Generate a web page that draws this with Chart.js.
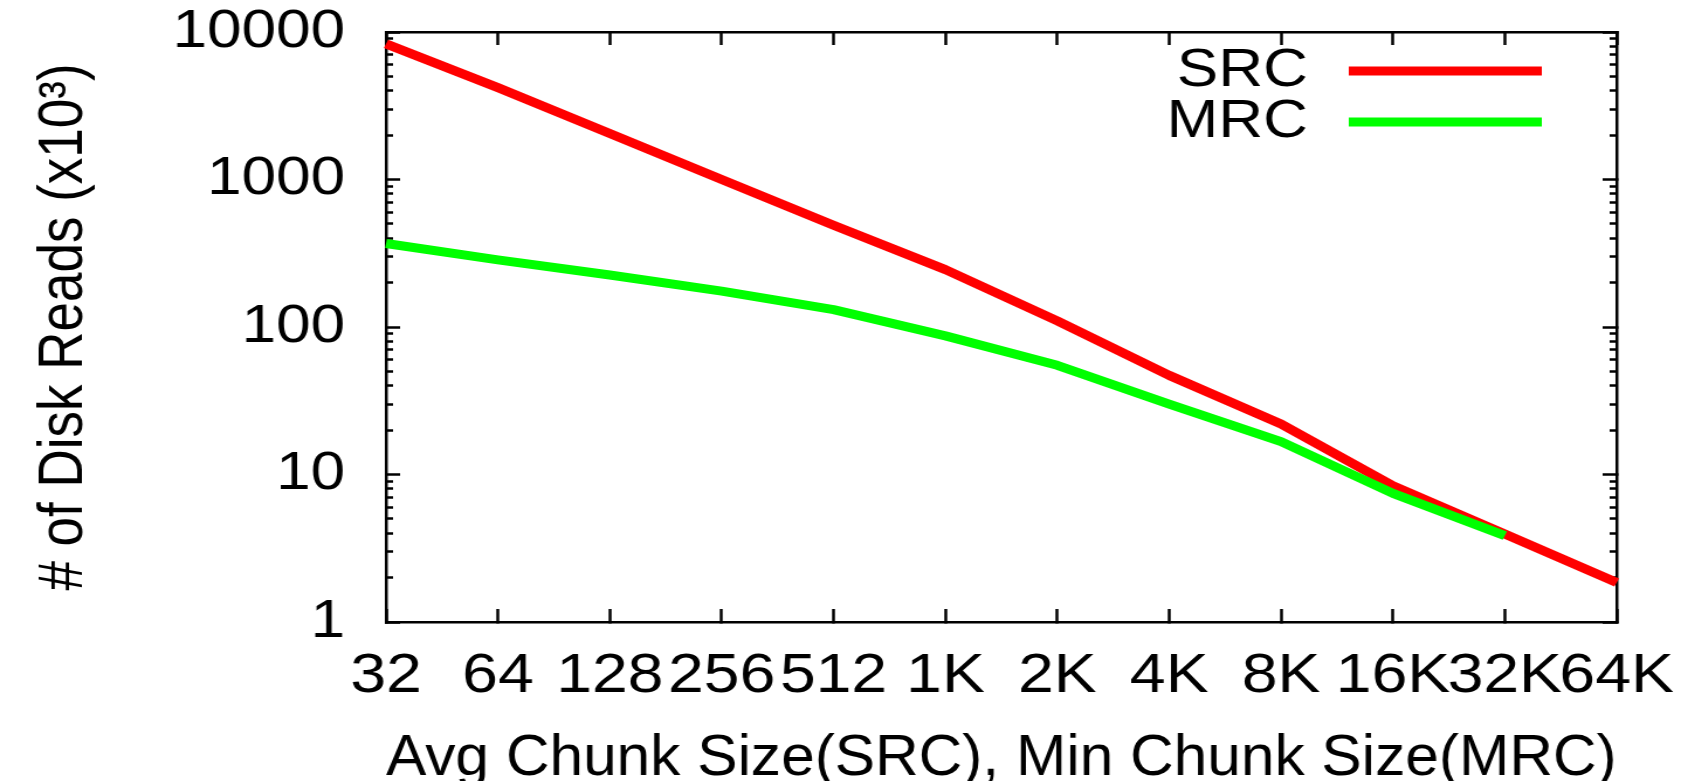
<!DOCTYPE html>
<html>
<head>
<meta charset="utf-8">
<script src="https://cdn.jsdelivr.net/npm/chart.js@4.4.1/dist/chart.umd.min.js"></script>
<style>
    html, body { margin: 0; padding: 0; background: #fff; overflow: hidden; }
    /* the original figure is stretched sideways, so the canvas is too */
    #chunkChart { display: block; transform: scaleX(1.1698); transform-origin: 0 0; }
</style>
</head>
<body>
<canvas id="chunkChart" width="1437" height="781"></canvas>
<script>
const chunkSizes = ['32', '64', '128', '256', '512', '1K', '2K', '4K', '8K', '16K', '32K', '64K'];
const srcReads = [8300, 4200, 2050, 1000, 490, 245, 110, 47, 22, 8.4, 3.95, 1.85];
const mrcReads = [368, 285, 225, 175, 131, 87, 55, 30, 16.7, 7.45, 3.85, null];
const yMajorTicks = [1, 10, 100, 1000, 10000];
const yMinorTicks = yMajorTicks.slice(0, -1).flatMap(d => [2, 3, 4, 5, 6, 7, 8, 9].map(m => d * m));

const FONT = '"Liberation Sans", Arial, Helvetica, sans-serif';
Chart.defaults.font.family = FONT;
Chart.defaults.font.size = 53;
Chart.defaults.font.lineHeight = 1;
Chart.defaults.color = '#000';

const useMajor = scale => { scale.ticks = yMajorTicks.map(v => ({ value: v })); };
const useMinor = scale => { scale.ticks = yMinorTicks.map(v => ({ value: v })); };

function tickGrid(len) {
    return { drawOnChartArea: false, drawTicks: true, tickLength: len, tickWidth: 2.5, tickColor: '#000' };
}
const frame = { display: true, color: '#000', width: 2.5 };

// fixed axis sizes, and no extra room for labels hanging over the ends
function fixSize(w, h) {
    return s => {
        if (w !== null) s.width = w;
        if (h !== null) s.height = h;
        s.paddingTop = s.paddingBottom = s.paddingLeft = s.paddingRight = 0;
    };
}

// gnuplot style key: label on the left, line sample on the right
const gnuplotKey = {
    id: 'gnuplotKey',
    afterDatasetsDraw(chart) {
        const { ctx, chartArea } = chart;
        ctx.save();
        ctx.font = '53px ' + FONT;
        ctx.fillStyle = '#000';
        ctx.textAlign = 'right';
        ctx.textBaseline = 'middle';
        chart.data.datasets.forEach((ds, i) => {
            const y = chartArea.top + 39 + i * 51;
            ctx.fillText(ds.label, chartArea.right - 264, y);
            ctx.strokeStyle = ds.borderColor;
            ctx.lineWidth = 9;
            ctx.beginPath();
            ctx.moveTo(chartArea.right - 229, y);
            ctx.lineTo(chartArea.right - 64, y);
            ctx.stroke();
        });
        ctx.restore();
    }
};

new Chart(document.getElementById('chunkChart').getContext('2d'), {
    type: 'line',
    data: {
        labels: chunkSizes,
        datasets: [
            { label: 'SRC', data: srcReads, borderColor: '#ff0000', backgroundColor: '#ff0000', order: 2, xAxisID: 'x', yAxisID: 'y' },
            { label: 'MRC', data: mrcReads, borderColor: '#00ff00', backgroundColor: '#00ff00', order: 1, xAxisID: 'x', yAxisID: 'y' }
        ]
    },
    options: {
        responsive: false,
        devicePixelRatio: 1,
        animation: false,
        layout: { padding: { top: 32, right: 55, left: 0, bottom: 0 } },
        elements: {
            line: { borderWidth: 9, tension: 0, fill: false, borderJoinStyle: 'round' },
            point: { radius: 0, hoverRadius: 0 }
        },
        plugins: { legend: { display: false }, tooltip: { enabled: false } },
        scales: {
            x: {
                type: 'category', position: 'bottom', offset: false,
                grid: tickGrid(-13), border: frame,
                ticks: { autoSkip: false, maxRotation: 0, padding: 40, font: { size: 55 } },
                title: { display: true, text: 'Avg Chunk Size(SRC), Min Chunk Size(MRC)', font: { size: 57 }, padding: { top: 0, bottom: -7 } },
                afterFit: fixSize(null, 159)
            },
            x2: {
                type: 'category', position: 'top', offset: false,
                grid: tickGrid(-13), border: frame,
                ticks: { display: false },
                afterFit: fixSize(null, 0)
            },
            y: {
                type: 'logarithmic', position: 'left', min: 1, max: 10000, weight: 1,
                afterBuildTicks: useMajor,
                grid: tickGrid(-12), border: frame,
                ticks: { autoSkip: false, padding: 47, callback: v => String(v) },
                title: { display: true, text: '# of Disk Reads (x10³)', padding: { top: 29, bottom: 0 } },
                afterFit: fixSize(330, null)
            },
            yMinor: {
                type: 'logarithmic', position: 'left', min: 1, max: 10000, weight: -1,
                afterBuildTicks: useMinor,
                grid: tickGrid(-6), border: { display: false },
                ticks: { display: false },
                afterFit: fixSize(0, null)
            },
            y2: {
                type: 'logarithmic', position: 'right', min: 1, max: 10000, weight: 1,
                afterBuildTicks: useMajor,
                grid: tickGrid(-12), border: frame,
                ticks: { display: false },
                afterFit: fixSize(0, null)
            },
            y2Minor: {
                type: 'logarithmic', position: 'right', min: 1, max: 10000, weight: -1,
                afterBuildTicks: useMinor,
                grid: tickGrid(-6), border: { display: false },
                ticks: { display: false },
                afterFit: fixSize(0, null)
            }
        }
    },
    plugins: [gnuplotKey]
});
</script>
</body>
</html>
